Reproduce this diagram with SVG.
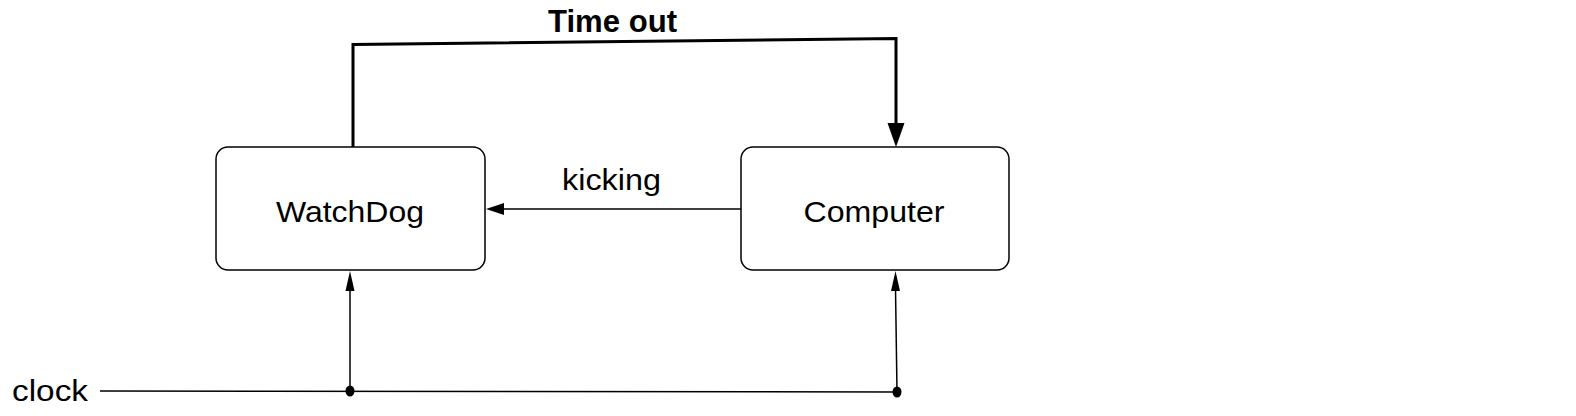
<svg xmlns="http://www.w3.org/2000/svg" width="1576" height="416" viewBox="0 0 1576 416">
<style>
.box{fill:#fff;stroke:#000;stroke-width:1.5}
.lbl{font-family:"Liberation Sans",Arial,Helvetica,sans-serif;font-size:30px;fill:#000}
.bold{font-weight:bold;font-size:31px}
.thin{fill:none;stroke:#000;stroke-width:1.5}
.thick{fill:none;stroke:#000;stroke-width:3}
</style>
<rect width="1576" height="416" fill="#fff"/>
<g id="connectors">
<path class="thick" d="M353 147 L353 44.5 L896 38.5 L896 125"/>
<polygon points="896,147 887.5,123 904.5,123" fill="#000"/>
<line class="thin" x1="741" y1="209" x2="502" y2="209"/>
<polygon points="486,209 504,203 504,215" fill="#000"/>
<path class="thin" d="M100 391 L897 392"/>
<line class="thin" x1="350" y1="391" x2="350" y2="288"/>
<polygon points="350,271 345.5,291 354.5,291" fill="#000"/>
<line class="thin" x1="897" y1="392" x2="895.5" y2="288"/>
<polygon points="895.5,271 891,291 900,291" fill="#000"/>
<ellipse cx="350" cy="391" rx="4.5" ry="5.5" fill="#000"/>
<ellipse cx="897" cy="392" rx="4.5" ry="5.5" fill="#000"/>
<text class="lbl bold" x="612.5" y="32" text-anchor="middle" textLength="129" lengthAdjust="spacingAndGlyphs">Time out</text>
<text class="lbl" x="611.5" y="190" text-anchor="middle" textLength="99" lengthAdjust="spacingAndGlyphs">kicking</text>
<text class="lbl" x="12" y="401" textLength="76" lengthAdjust="spacingAndGlyphs">clock</text>
</g>
<g id="watchdog">
<rect class="box" x="216" y="147" width="269" height="123" rx="12" ry="12"/>
<text class="lbl" x="350" y="222" text-anchor="middle" textLength="148" lengthAdjust="spacingAndGlyphs">WatchDog</text>
</g>
<g id="computer">
<rect class="box" x="741" y="147" width="268" height="123" rx="12" ry="12"/>
<text class="lbl" x="874" y="222" text-anchor="middle" textLength="141" lengthAdjust="spacingAndGlyphs">Computer</text>
</g>
</svg>
